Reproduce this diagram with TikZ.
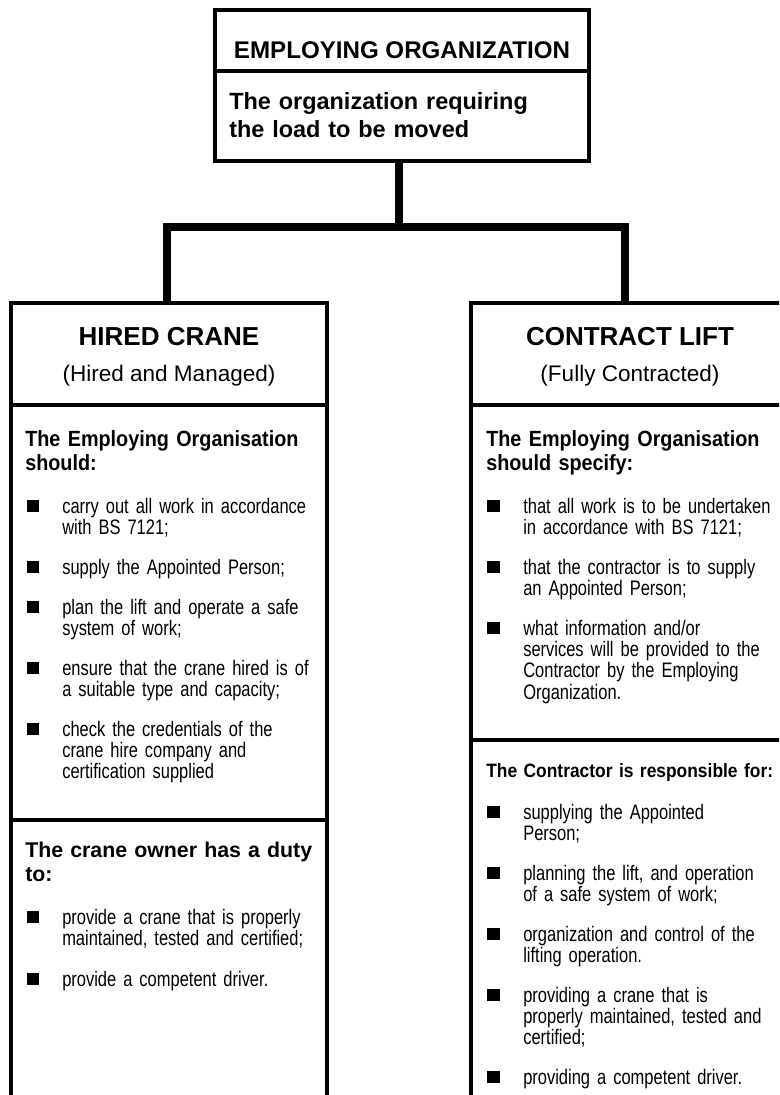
\documentclass[tikz,border=0pt]{standalone}
\usepackage{fontspec}
\setmainfont{Liberation Sans}
\newfontfamily\narrowf[FakeStretch=0.785]{Liberation Sans}
\newfontfamily\semif[FakeStretch=0.9]{Liberation Sans}
\begin{document}
\begin{tikzpicture}[x=0.75pt,y=-0.75pt,
  box/.style={draw, line width=3pt, inner sep=0pt, outer sep=0pt, anchor=north west},
  conn/.style={line width=6pt, line join=miter},
  divider/.style={line width=3pt},
  ctr/.style={inner sep=0pt, anchor=base},
  topttl/.style={ctr, font=\bfseries\fontsize{18.1}{21}\selectfont},
  subttl/.style={inner sep=0pt, anchor=base west, align=left, text width=300pt, font=\bfseries\fontsize{17.6}{21}\selectfont},
  colttl/.style={ctr, font=\bfseries\fontsize{19.5}{23}\selectfont},
  colsub/.style={ctr, font=\fontsize{16.9}{20}\selectfont},
  headn/.style={inner sep=0pt, anchor=base west, align=left, text width=240pt, font=\semif\bfseries\fontsize{16.5}{18}\selectfont},
  headw/.style={inner sep=0pt, anchor=base west, align=left, text width=240pt, font=\bfseries\fontsize{16}{18}\selectfont},
  headc/.style={inner sep=0pt, anchor=base west, align=left, text width=240pt, font=\semif\bfseries\fontsize{14.5}{18}\selectfont},
  itemtxt/.style={inner sep=0pt, anchor=base west, align=left, text width=240pt, font=\narrowf\fontsize{15.75}{16}\selectfont},
  bul/.style={fill, inner sep=0pt, minimum size=9.6pt}
]
\useasboundingbox (0,0) rectangle (779,1095);
\clip (0,0) rectangle (779,1095);
\fill[white] (0,0) rectangle (779,1095);

% boxes
\node[box, minimum width=374*0.75pt, minimum height=151*0.75pt] (emp) at (215,10) {};
\node[box, minimum width=316*0.75pt, minimum height=830*0.75pt] (hired) at (11,303) {};
\node[box, minimum width=320*0.75pt, minimum height=830*0.75pt] (contract) at (471,303) {};

% dividers
\draw[divider] (emp.west |- 0,71) -- (emp.east |- 0,71);
\draw[divider] (hired.west |- 0,405) -- (hired.east |- 0,405);
\draw[divider] (hired.west |- 0,820) -- (hired.east |- 0,820);
\draw[divider] (contract.west |- 0,405) -- (contract.east |- 0,405);
\draw[divider] (contract.west |- 0,740) -- (contract.east |- 0,740);

% connectors
\coordinate (stembot) at (399,227);
\coordinate (dropL) at (167,303);
\coordinate (dropR) at (625,303);
\draw[conn] (emp.south -| stembot) -- (stembot);
\draw[conn] (dropL) -- (dropL |- stembot) -- (dropR |- stembot) -- (dropR);

% top box text
\node[topttl] (empttl) at (402,58.5) {EMPLOYING ORGANIZATION};
\node[subttl] (empsub) at (229,110) {The organization requiring\\the load to be moved};

% column titles
\node[colttl] (hiredttl) at (169,345) {HIRED CRANE};
\node[colsub] (hiredsub) at (169,381) {(Hired and Managed)};
\node[colttl] (contrttl) at (630,345) {CONTRACT LIFT};
\node[colsub] (contrsub) at (630,381) {(Fully Contracted)};

% left column
\node[headn] (lh1) at (25,446) {The Employing Organisation\\should:};
\node[itemtxt] (l1) at (62,513) {carry out all work in accordance\\with BS 7121;};
\node[itemtxt] (l2) at (62,574) {supply the Appointed Person;};
\node[itemtxt] (l3) at (62,614) {plan the lift and operate a safe\\system of work;};
\node[itemtxt] (l4) at (62,675) {ensure that the crane hired is of\\a suitable type and capacity;};
\node[itemtxt] (l5) at (62,736) {check the credentials of the\\crane hire company and\\certification supplied};
\node[headw] (lh2) at (25,857) {The crane owner has a duty\\to:};
\node[itemtxt] (l6) at (62,924) {provide a crane that is properly\\maintained, tested and certified;};
\node[itemtxt] (l7) at (62,986) {provide a competent driver.};

\node[bul] (bl1) at (33,506) {};
\node[bul] (bl2) at (33,567) {};
\node[bul] (bl3) at (33,607) {};
\node[bul] (bl4) at (33,668) {};
\node[bul] (bl5) at (33,729) {};
\node[bul] (bl6) at (33,917) {};
\node[bul] (bl7) at (33,979) {};

% right column
\node[headn] (rh1) at (486,446) {The Employing Organisation\\should specify:};
\node[itemtxt] (r1) at (523,513) {that all work is to be undertaken\\in accordance with BS 7121;};
\node[itemtxt] (r2) at (523,574) {that the contractor is to supply\\an Appointed Person;};
\node[itemtxt] (r3) at (523,635) {what information and/or\\services will be provided to the\\Contractor by the Employing\\Organization.};
\node[headc] (rh2) at (486,777) {The Contractor is responsible for:};
\node[itemtxt] (r4) at (523,819) {supplying the Appointed\\Person;};
\node[itemtxt] (r5) at (523,880) {planning the lift, and operation\\of a safe system of work;};
\node[itemtxt] (r6) at (523,941) {organization and control of the\\lifting operation.};
\node[itemtxt] (r7) at (523,1002) {providing a crane that is\\properly maintained, tested and\\certified;};
\node[itemtxt] (r8) at (523,1084) {providing a competent driver.};

\node[bul] (br1) at (493.5,506) {};
\node[bul] (br2) at (493.5,567) {};
\node[bul] (br3) at (493.5,628) {};
\node[bul] (br4) at (493.5,812) {};
\node[bul] (br5) at (493.5,873) {};
\node[bul] (br6) at (493.5,934) {};
\node[bul] (br7) at (493.5,995) {};
\node[bul] (br8) at (493.5,1077) {};
\end{tikzpicture}
\end{document}
